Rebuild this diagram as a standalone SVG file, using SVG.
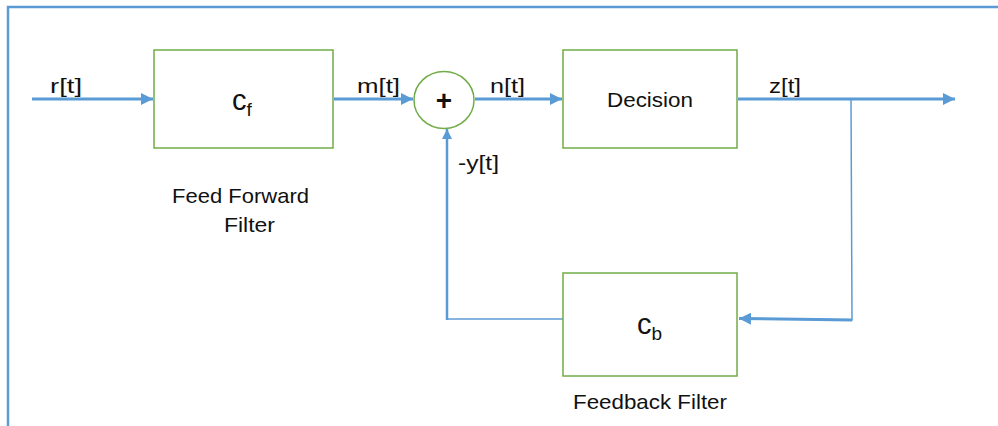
<svg xmlns="http://www.w3.org/2000/svg" width="998" height="426" viewBox="0 0 998 426">
<defs>
<marker id="ah" viewBox="0 0 10 10" refX="10" refY="5" markerWidth="4" markerHeight="4" orient="auto" markerUnits="strokeWidth">
<path d="M0,0 L10,5 L0,10 z" fill="#5B9BD5"/>
</marker>
<style>
.box{fill:#fff;stroke:#70AD47;stroke-width:1.5}
.t{font-family:"Liberation Sans",Arial,sans-serif;font-size:21px;fill:#111}
.big{font-family:"Liberation Sans",Arial,sans-serif;font-size:29px;fill:#111}
.sub{font-size:19px}
.w{fill:none;stroke:#5B9BD5;stroke-width:3}
.thin{fill:none;stroke:#5B9BD5;stroke-width:1.5}
</style>
</defs>
<rect width="998" height="426" fill="#fff"/>
<path d="M8,426 V7 H998" fill="none" stroke="#5B9BD5" stroke-width="2.5"/>
<g id="connectors">
<line class="w" x1="32" y1="99" x2="153" y2="99" marker-end="url(#ah)"/>
<line class="w" x1="334" y1="99" x2="413" y2="99" marker-end="url(#ah)"/>
<line class="w" x1="475" y1="99" x2="562" y2="99" marker-end="url(#ah)"/>
<line class="w" x1="738" y1="99" x2="955" y2="99" marker-end="url(#ah)"/>
<polyline class="thin" points="851,99 852,320 800,319"/>
<line class="w" x1="852" y1="320" x2="739" y2="318.5" marker-end="url(#ah)"/>
<polyline class="thin" points="563,319 447,319"/>
<line x1="447" y1="320" x2="447" y2="129" stroke="#5B9BD5" stroke-width="2.5" marker-end="url(#ah)"/>
</g>
<g id="cf">
<rect class="box" x="154" y="50" width="179" height="98"/>
<text class="big" x="232" y="110">c<tspan class="sub" dy="6">f</tspan></text>
</g>
<g id="sum">
<ellipse class="box" cx="444" cy="100" rx="30" ry="28.5"/>
<text x="444" y="110" text-anchor="middle" style="font-family:'Liberation Sans',Arial,sans-serif;font-size:28px;font-weight:bold;fill:#111">+</text>
</g>
<g id="decision">
<rect class="box" x="563" y="50" width="174" height="98"/>
<text class="t" x="650" y="107" text-anchor="middle" textLength="86" lengthAdjust="spacingAndGlyphs">Decision</text>
</g>
<g id="cb">
<rect class="box" x="563" y="273" width="174" height="103"/>
<text class="big" x="637" y="334">c<tspan class="sub" dy="6">b</tspan></text>
</g>
<g id="labels">
<text class="t" x="50" y="93" textLength="32" lengthAdjust="spacingAndGlyphs">r[t]</text>
<text class="t" x="357" y="93" textLength="43" lengthAdjust="spacingAndGlyphs">m[t]</text>
<text class="t" x="490" y="93" textLength="35" lengthAdjust="spacingAndGlyphs">n[t]</text>
<text class="t" x="769" y="93" textLength="32" lengthAdjust="spacingAndGlyphs">z[t]</text>
<text class="t" x="458" y="170" textLength="41" lengthAdjust="spacingAndGlyphs">-y[t]</text>
<text class="t" x="172" y="203" textLength="137" lengthAdjust="spacingAndGlyphs">Feed Forward</text>
<text class="t" x="224" y="232" textLength="51" lengthAdjust="spacingAndGlyphs">Filter</text>
<text class="t" x="573" y="409" textLength="154" lengthAdjust="spacingAndGlyphs">Feedback Filter</text>
</g>
</svg>
